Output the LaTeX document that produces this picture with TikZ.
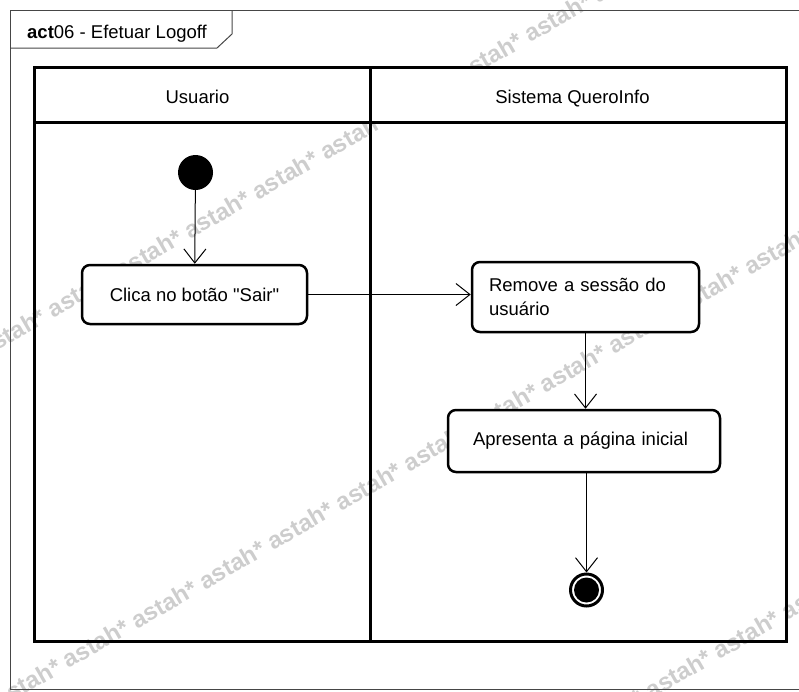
\documentclass[tikz,border=0pt]{standalone}
\usepackage{fontspec}
\setmainfont{Liberation Sans}[Ligatures=TeXOff]
\usetikzlibrary{arrows.meta}
\definecolor{wm}{RGB}{205,205,205}
\definecolor{framegray}{RGB}{70,70,70}
\newcommand\txtfont{\fontsize{18.5}{24}\selectfont}
\newcommand\wmfont{\fontsize{24}{24}\selectfont\bfseries}
\newcommand\wmrun{astah* astah* astah* astah* astah* astah* astah* astah* astah* astah* astah* astah* astah* astah* astah* astah*}
\begin{document}
\begin{tikzpicture}[x=1pt,y=-1pt,
  lane/.style={line width=3pt, draw=black},
  action/.style={draw, line width=2.5pt, rounded corners=8pt, fill=white, inner sep=0pt, font=\txtfont},
  flow/.style={line width=1pt, -{Straight Barb[length=14pt,width=22pt]}},
  wmark/.style={anchor=base west, rotate=30, inner sep=0pt, text=wm, font=\wmfont},
  lbl/.style={font=\txtfont, inner sep=0pt, anchor=base}]
\useasboundingbox (0,0) rectangle (799,691);
\begin{scope}
\clip (0,0) rectangle (799,691);
% watermark
\node[wmark] (wA) at (-82.7,397) {\wmrun};
\node[wmark] (wB) at (-135.7,787) {\wmrun};
\node[wmark] (wD) at (515,778) {astah* astah* astah* astah* astah* astah*};
% frame
\draw[framegray, line width=1pt] (10,10) rectangle (803,689);
\end{scope}
\draw[framegray, line width=1pt] (10,48) -- (217,48) -- (232,34) -- (232,10);
\node[anchor=base west, inner sep=0pt, font=\txtfont] (title) at (27,38) {{\bfseries act}06 - Efetuar Logoff};
% swimlanes
\fill[white] (34,67) rectangle (786,122);
\draw[lane] (34,67) rectangle (786,641);
\draw[lane] (34,122) -- (786,122);
\draw[lane] (370,67) -- (370,641);
\node[lbl] (h1) at (197.5,103.5) {Usuario};
\node[lbl] (h2) at (572.5,103.5) {Sistema QueroInfo};
% nodes
\node[circle, fill=black, minimum size=35pt, inner sep=0pt] (init) at (195.5,172.5) {};
\node[action, minimum width=225pt, minimum height=59pt] (a1) at (194.5,294.5) {Clica no botão "Sair"};
\node[action, minimum width=227pt, minimum height=70pt, text width=193pt, align=left] (a2) at (585.5,297) {Remove a sessão do\\usuário};
\node[action, minimum width=272pt, minimum height=62pt, text width=222pt, align=left] (a3) at (584,441) {Apresenta a página inicial};
\node[circle, draw, line width=3pt, minimum size=32pt, inner sep=0pt, fill=white] (fin) at (586.5,590) {};
\fill[black] (fin.center) circle (12.5pt);
% flows
\draw[flow] (init) -- (a1);
\draw[flow] (a1.east) -- (a1.east -| a2.west);
\draw[flow] (a2.south) -- (a2.south |- a3.north);
\draw[flow] (a3.south -| fin) -- (fin);
\end{tikzpicture}
\end{document}
